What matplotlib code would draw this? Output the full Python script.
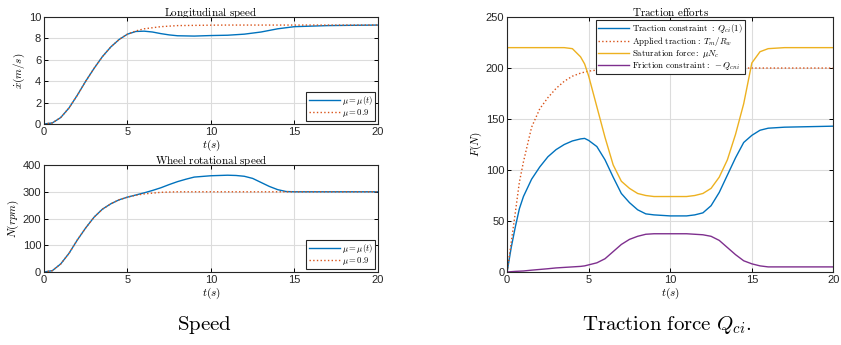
import matplotlib.pyplot as plt

plt.rcParams['mathtext.fontset'] = 'cm'
plt.rcParams['font.family'] = 'Liberation Sans'

BLUE = '#0072BD'
ORANGE = '#D95319'
YELLOW = '#EDB120'
PURPLE = '#7E2F8E'

# longitudinal speed (m/s)
t_speed = [0, 0.5, 1, 1.5, 2, 2.5, 3, 3.5, 4, 4.5, 5, 5.5, 6, 6.5, 7, 7.5, 8, 9,
           10, 11, 12, 13, 14, 15, 16, 17, 18, 20]
speed_mu_t = [0, 0.1, 0.6, 1.5, 2.7, 4.0, 5.2, 6.3, 7.2, 7.9, 8.4, 8.65, 8.68, 8.6,
              8.45, 8.33, 8.25, 8.22, 8.27, 8.3, 8.4, 8.6, 8.9, 9.1, 9.15, 9.2, 9.22, 9.25]
speed_mu_09 = [0, 0.1, 0.6, 1.5, 2.7, 4.0, 5.2, 6.3, 7.2, 7.9, 8.4, 8.7, 8.9, 9.0,
               9.1, 9.15, 9.2, 9.22, 9.24, 9.25, 9.25, 9.25, 9.25, 9.25, 9.25, 9.25, 9.25, 9.25]

# wheel rotational speed (rpm)
t_wheel = [0, 0.5, 1, 1.5, 2, 2.5, 3, 3.5, 4, 4.5, 5, 5.5, 6, 6.5, 7, 7.5, 8, 8.5,
           9, 10, 11, 11.5, 12, 12.5, 13, 13.5, 14, 14.5, 15, 16, 20]
wheel_mu_t = [0, 5, 30, 70, 120, 165, 205, 235, 255, 270, 280, 288, 296, 305, 315,
              327, 338, 347, 355, 360, 362, 361, 358, 350, 335, 320, 308, 301, 300, 300, 300]
wheel_mu_09 = [0, 5, 30, 70, 120, 165, 205, 235, 255, 270, 280, 287, 292, 295, 298,
               299, 300, 300, 300, 300, 300, 300, 300, 300, 300, 300, 300, 300, 300, 300, 300]

# traction efforts (N)
t_force = [0, 0.25, 0.5, 0.75, 1, 1.5, 2, 2.5, 3, 3.5, 4, 4.5, 4.75, 5, 5.5, 6, 6.5,
           7, 7.5, 8, 8.5, 9, 10, 11, 11.5, 12, 12.5, 13, 13.5, 14, 14.5, 15, 15.5,
           16, 17, 20]
traction_constraint = [0, 24, 44, 62, 74, 91, 103, 113, 120, 125, 128.5, 130.5, 131,
                       129, 123, 110, 93, 77, 68, 61, 57, 56, 55, 55, 56, 58, 65, 78,
                       95, 112, 127, 134, 139, 141, 142, 143]
applied_traction = [0, 29, 58, 88, 108, 142, 160, 171, 180, 187, 192, 195, 196, 197,
                    198, 198.5, 199, 199.5, 200, 200, 200, 200, 200, 200, 200, 200,
                    200, 200, 200, 200, 200, 200, 200, 200, 200, 200]
saturation_force = [220, 220, 220, 220, 220, 220, 220, 220, 220, 220, 219, 211, 204,
                    192, 162, 132, 105, 89, 82, 77, 75, 74, 74, 74, 75, 77, 82, 93,
                    110, 135, 165, 205, 216, 219, 220, 220]
friction_constraint = [0, 0.3, 0.6, 0.8, 1, 1.8, 2.5, 3.2, 4, 4.5, 5, 5.5, 6, 7, 9, 13,
                       20, 27, 32, 35, 37, 37.5, 37.5, 37.5, 37, 36.5, 35, 31, 24, 17,
                       11, 8, 6, 5, 5, 5]


def style_axes(ax, yticks):
    ax.set_xlim(0, 20)
    ax.set_xticks([0, 5, 10, 15, 20])
    ax.set_yticks(yticks)
    ax.set_ylim(yticks[0], yticks[-1])
    ax.grid(True, color='#dcdcdc', linewidth=0.8)
    ax.set_axisbelow(True)
    ax.tick_params(direction='in', top=True, right=True, length=3, width=0.7,
                   labelsize=8, labelcolor='#262626', pad=2)
    for sp in ax.spines.values():
        sp.set_linewidth(0.8)
        sp.set_color('#262626')


def add_legend(ax, loc, hl, fs):
    leg = ax.legend(loc=loc, fontsize=fs, fancybox=False, edgecolor='#262626',
                    framealpha=1, handlelength=hl, borderpad=0.25, labelspacing=0.0,
                    borderaxespad=0.3, handletextpad=0.3)
    leg.get_frame().set_linewidth(0.8)
    return leg


fig = plt.figure(figsize=(8.41, 3.45), dpi=100)

ax1 = fig.add_axes([0.0523, 0.6406, 0.397, 0.310])
ax1.plot(t_speed, speed_mu_t, color=BLUE, lw=1.0, label=r'$\mu=\mu(t)$')
ax1.plot(t_speed, speed_mu_09, color=ORANGE, lw=1.0, ls=':', label=r'$\mu=0.9$')
style_axes(ax1, [0, 2, 4, 6, 8, 10])
ax1.set_title(r'$\mathrm{Longitudinal\ speed}$', fontsize=8, pad=1)
ax1.set_xlabel(r'$t(s)$', fontsize=8, labelpad=1)
ax1.set_ylabel(r'$\dot{x}(m/s)$', fontsize=8, labelpad=1)
add_legend(ax1, 'lower right', 3.6, 6.2)

ax2 = fig.add_axes([0.0523, 0.2116, 0.397, 0.310])
ax2.plot(t_wheel, wheel_mu_t, color=BLUE, lw=1.0, label=r'$\mu=\mu(t)$')
ax2.plot(t_wheel, wheel_mu_09, color=ORANGE, lw=1.0, ls=':', label=r'$\mu=0.9$')
style_axes(ax2, [0, 100, 200, 300, 400])
ax2.set_title(r'$\mathrm{Wheel\ rotational\ speed}$', fontsize=8, pad=1)
ax2.set_xlabel(r'$t(s)$', fontsize=8, labelpad=1)
ax2.set_ylabel(r'$N(rpm)$', fontsize=8, labelpad=1)
add_legend(ax2, 'lower right', 3.6, 6.2)

ax3 = fig.add_axes([0.603, 0.2116, 0.388, 0.739])
ax3.plot(t_force, traction_constraint, color=BLUE, lw=1.0,
         label=r'$\mathrm{Traction\ constraint\ :}\ Q_{ci}(1)$')
ax3.plot(t_force, applied_traction, color=ORANGE, lw=1.0, ls=':',
         label=r'$\mathrm{Applied\ traction:}\ T_m/R_w$')
ax3.plot(t_force, saturation_force, color=YELLOW, lw=1.0,
         label=r'$\mathrm{Saturation\ force:}\ \mu N_c$')
ax3.plot(t_force, friction_constraint, color=PURPLE, lw=1.0,
         label=r'$\mathrm{Friction\ constraint:}\ -Q_{cni}$')
style_axes(ax3, [0, 50, 100, 150, 200, 250])
ax3.set_title(r'$\mathrm{Traction\ efforts}$', fontsize=8, pad=1)
ax3.set_xlabel(r'$t(s)$', fontsize=8, labelpad=1)
ax3.set_ylabel(r'$F(N)$', fontsize=8, labelpad=1)
add_legend(ax3, 'upper center', 3.5, 6.4)

fig.text(0.243, 0.058, r'$\mathrm{Speed}$', fontsize=15, ha='center', va='center')
fig.text(0.793, 0.058, r'$\mathrm{Traction\ force}\ Q_{ci}.$', fontsize=15,
         ha='center', va='center')

fig.savefig('out.png', dpi=100)
